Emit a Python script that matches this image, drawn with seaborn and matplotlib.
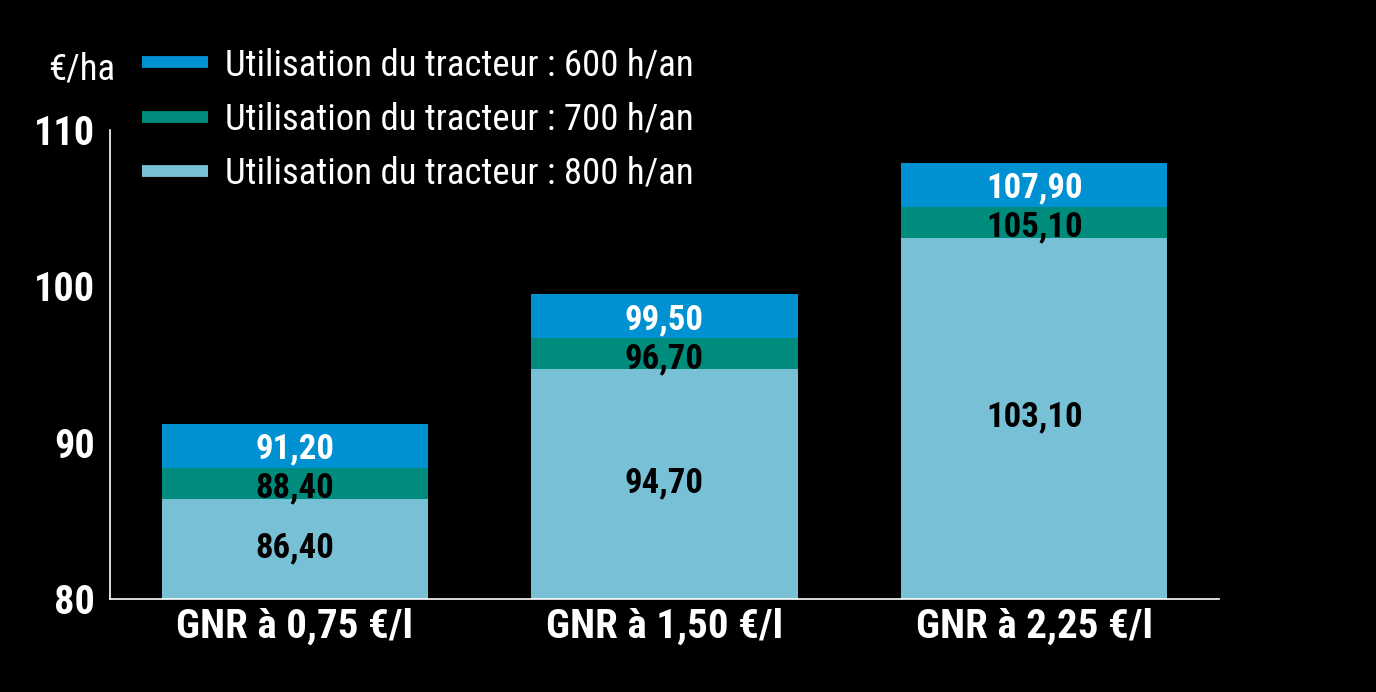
import matplotlib
matplotlib.use("Agg")
import matplotlib.pyplot as plt
from matplotlib.lines import Line2D
from matplotlib import font_manager
import seaborn as sns
import pandas as pd

categories = ["GNR à 0,75 €/l", "GNR à 1,50 €/l", "GNR à 2,25 €/l"]
series_names = ["Utilisation du tracteur : 600 h/an",
                "Utilisation du tracteur : 700 h/an",
                "Utilisation du tracteur : 800 h/an"]
values_600 = [91.20, 99.50, 107.90]
values_700 = [88.40, 96.70, 105.10]
values_800 = [86.40, 94.70, 103.10]
y_ticks = [80, 90, 100, 110]
y_unit = "€/ha"

colors = ["#0091D3", "#008C7C", "#77C0D6"]

sns.set_theme(style="white")

available = {f.name for f in font_manager.fontManager.ttflist}
candidates = ["Liberation Sans Narrow", "Nimbus Sans Narrow", "Arial Narrow",
              "Helvetica Narrow", "Roboto Condensed", "PT Sans Narrow",
              "Fira Sans Condensed", "IBM Plex Sans Condensed"]
chosen = [c for c in candidates if c in available][:1]
plt.rcParams["font.family"] = chosen + ["Liberation Sans", "DejaVu Sans"]

df = pd.DataFrame({
    "cat": categories * 3,
    "val": values_600 + values_700 + values_800,
    "series": [series_names[0]] * 3 + [series_names[1]] * 3 + [series_names[2]] * 3,
})

fig = plt.figure(figsize=(13.76, 6.92), dpi=100, facecolor="black")
ax = fig.add_axes([110 / 1376, 1 - 599 / 692, (1219 - 110) / 1376, (599 - 130) / 692])
ax.set_facecolor("black")

sns.barplot(data=df, x="cat", y="val", hue="series", hue_order=series_names,
            palette=colors, dodge=False, width=0.72, saturation=1,
            ax=ax, legend=False, linewidth=0)

ax.set_ylim(80, 110)
ax.set_xlim(-0.5, 2.5)
ax.set_yticks(y_ticks)
ax.set_yticklabels([str(t) for t in y_ticks], fontsize=29, fontweight="bold", color="white")
ax.set_xticks(range(len(categories)))
ax.set_xticklabels(categories, fontsize=29.5, fontweight="bold", color="white")
ax.tick_params(axis="both", length=0)
ax.tick_params(axis="y", pad=11)
ax.tick_params(axis="x", pad=6)
ax.set_xlabel("")
ax.set_ylabel("")
for s in ["top", "right"]:
    ax.spines[s].set_visible(False)
for s in ["left", "bottom"]:
    ax.spines[s].set_color("white")
    ax.spines[s].set_linewidth(1.2)

def fmt(v):
    return f"{v:.2f}".replace(".", ",")

for i in range(len(categories)):
    ax.text(i, (values_600[i] + values_700[i]) / 2, fmt(values_600[i]), ha="center",
            va="center_baseline", fontsize=25, fontweight="bold", color="white")
    ax.text(i, (values_700[i] + values_800[i]) / 2 - 0.1, fmt(values_700[i]), ha="center",
            va="center_baseline", fontsize=25, fontweight="bold", color="black")
    ax.text(i, (values_800[i] + 80) / 2 + 0.3, fmt(values_800[i]), ha="center",
            va="center_baseline", fontsize=25, fontweight="bold", color="black")

handles = [Line2D([0], [0], color=c, linewidth=8.5, solid_capstyle="butt") for c in colors]
leg = fig.legend(handles, series_names, loc="upper left",
                 bbox_to_anchor=(142 / 1376, 1 - 47 / 692), frameon=False,
                 fontsize=26.5, handlelength=1.8, handletextpad=0.45,
                 labelspacing=0.5, borderpad=0, borderaxespad=0)
for t in leg.get_texts():
    t.set_color("white")

fig.text(115 / 1376, 1 - 79 / 692, y_unit, ha="right", va="baseline",
         fontsize=26.5, color="white")

fig.savefig("out.png", dpi=100, facecolor="black")
